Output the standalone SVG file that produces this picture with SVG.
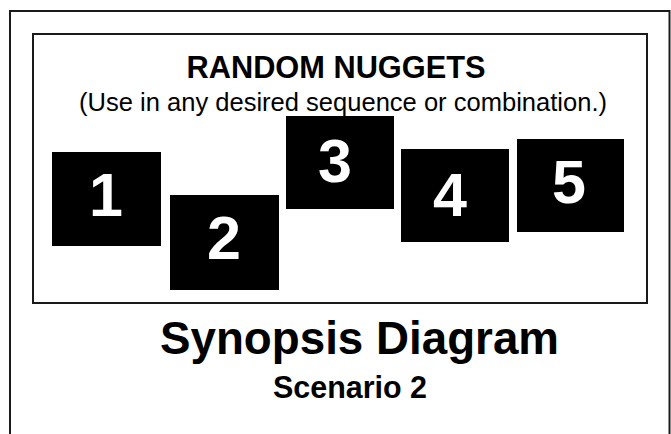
<svg xmlns="http://www.w3.org/2000/svg" width="671" height="434" viewBox="0 0 671 434">
<style>
.frame{fill:none;stroke:#1a1a1a;stroke-width:2}
.box{fill:#000}
.num{fill:#fff;font-family:"Liberation Sans",Arial,sans-serif;font-weight:bold;font-size:61px;text-anchor:middle}
.t{fill:#000;font-family:"Liberation Sans",Arial,sans-serif;text-anchor:middle}
</style>
<rect width="671" height="434" fill="#fff"/>
<rect class="frame" x="10" y="11" width="659.5" height="440"/>
<rect class="frame" x="33" y="34" width="614" height="269"/>
<text class="t" x="336" y="78" font-size="31" font-weight="bold" textLength="299" lengthAdjust="spacingAndGlyphs">RANDOM NUGGETS</text>
<text class="t" x="343" y="111" font-size="26" textLength="528" lengthAdjust="spacingAndGlyphs">(Use in any desired sequence or combination.)</text>
<g id="n1"><rect class="box" x="52" y="152" width="109" height="94"/><text class="num" x="106" y="216">1</text></g>
<g id="n2"><rect class="box" x="170" y="195" width="109" height="95"/><text class="num" x="224" y="259">2</text></g>
<g id="n3"><rect class="box" x="286" y="116" width="108" height="93"/><text class="num" x="335" y="182">3</text></g>
<g id="n4"><rect class="box" x="401" y="149" width="108" height="93"/><text class="num" x="450" y="216">4</text></g>
<g id="n5"><rect class="box" x="517" y="139" width="107" height="93"/><text class="num" x="569" y="203">5</text></g>
<g id="connectors"/>
<text class="t" x="359.5" y="354" font-size="47" font-weight="bold" textLength="399" lengthAdjust="spacingAndGlyphs">Synopsis Diagram</text>
<text class="t" x="350" y="398" font-size="31" font-weight="bold" textLength="154" lengthAdjust="spacingAndGlyphs">Scenario 2</text>
</svg>
